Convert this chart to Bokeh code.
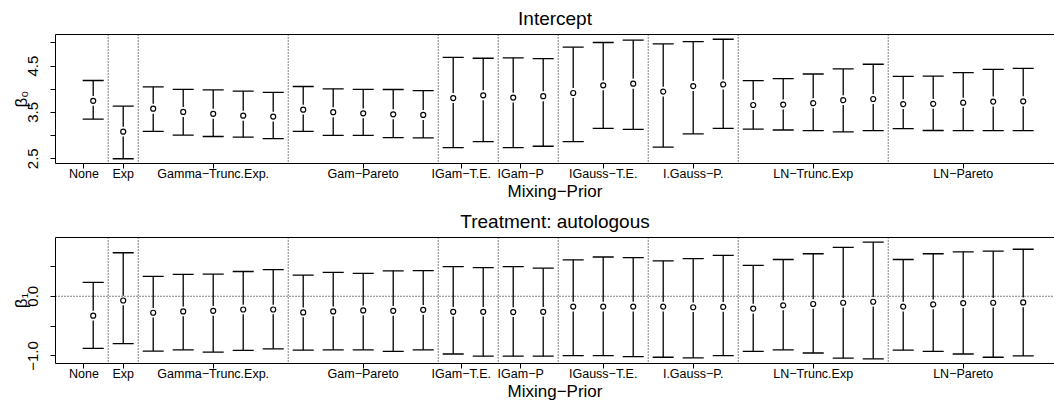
import numpy as np
from bokeh.plotting import figure
from bokeh.layouts import column
from bokeh.models import Range1d, FixedTicker, Span, LinearAxis, Title
from bokeh.embed import file_html
from bokeh.resources import INLINE

# ---------------- data ----------------
groups = ["None", "Exp", "Gamma\u2212Trunc.Exp.", "Gam\u2212Pareto", "IGam\u2212T.E.", "IGam\u2212P",
          "IGauss\u2212T.E.", "I.Gauss\u2212P.", "LN\u2212Trunc.Exp", "LN\u2212Pareto"]
group_sizes = [1, 1, 5, 5, 2, 2, 3, 3, 5, 5]
group_ticks = [0.69, 2, 5, 10, 13.27, 15.25, 18, 21, 25, 30]

b0_mean = [3.75, 3.085, 3.58, 3.51, 3.47, 3.43, 3.41, 3.56, 3.505, 3.48, 3.46, 3.445,
           3.81, 3.87, 3.82, 3.85, 3.92, 4.085, 4.12, 3.95, 4.07, 4.105,
           3.66, 3.67, 3.70, 3.765, 3.79, 3.68, 3.685, 3.71, 3.735, 3.74]
b0_lower = [3.357, 2.5, 3.09, 3.01, 2.98, 2.965, 2.935, 3.09, 3.005, 3.005, 2.955, 2.95,
            2.74, 2.87, 2.74, 2.77, 2.87, 3.155, 3.135, 2.75, 3.035, 3.155,
            3.14, 3.12, 3.105, 3.08, 3.105, 3.15, 3.11, 3.105, 3.105, 3.105]
b0_upper = [4.19, 3.635, 4.05, 4.0, 3.985, 3.96, 3.935, 4.06, 4.01, 4.0, 3.995, 3.97,
            4.69, 4.67, 4.68, 4.66, 4.91, 5.01, 5.06, 4.98, 5.03, 5.08,
            4.185, 4.23, 4.33, 4.44, 4.54, 4.28, 4.285, 4.36, 4.43, 4.45]

b1_mean = [-0.325, -0.071, -0.276, -0.254, -0.244, -0.222, -0.222, -0.271, -0.254, -0.238, -0.244, -0.227,
           -0.26, -0.26, -0.265, -0.26, -0.173, -0.173, -0.173, -0.173, -0.184, -0.178,
           -0.206, -0.152, -0.130, -0.109, -0.092, -0.173, -0.136, -0.114, -0.109, -0.103]
b1_lower = [-0.875, -0.795, -0.919, -0.897, -0.935, -0.908, -0.881, -0.903, -0.897, -0.897, -0.924, -0.897,
            -0.968, -1.005, -1.005, -1.005, -0.995, -0.995, -1.011, -1.022, -1.032, -0.995,
            -0.924, -0.897, -0.951, -1.038, -1.049, -0.903, -0.924, -0.968, -1.022, -1.0]
b1_upper = [0.232, 0.729, 0.334, 0.366, 0.372, 0.415, 0.448, 0.356, 0.399, 0.383, 0.426, 0.431,
            0.496, 0.480, 0.496, 0.47, 0.61, 0.658, 0.648, 0.594, 0.632, 0.686,
            0.518, 0.616, 0.713, 0.820, 0.907, 0.616, 0.713, 0.745, 0.756, 0.788]

b0_ticks = [2.5, 3.0, 3.5, 4.0, 4.5, 5.0]
b0_tick_labels = ["2.5", "", "3.5", "", "4.5", ""]
b1_ticks = [-1.0, -0.5, 0.0, 0.5]
b1_tick_labels = ["\u22121.0", "", "0.0", ""]

# ---------------- layout / style ----------------
FONT = "Liberation Sans"
W = 1054
LEFT = 55
FRAME_H = 130
X0, X1 = -0.257, 33.043
xpos = np.arange(1, sum(group_sizes) + 1)
dividers = list(np.cumsum(group_sizes)[:-1] + 0.5)


def panel(mean, lower, upper, yr, ticks, tick_labels, title, ylab, height, top):
    p = figure(width=W, height=height, output_backend="svg", toolbar_location=None,
               x_range=Range1d(X0, X1), y_range=Range1d(*yr),
               min_border_left=LEFT, min_border_right=0, min_border_top=top,
               min_border_bottom=height - top - FRAME_H)
    p.outline_line_color = None
    p.xgrid.visible = False
    p.ygrid.visible = False
    p.background_fill_color = "white"
    p.border_fill_color = "white"

    ppu_y = FRAME_H / (yr[1] - yr[0])   # pixels per y unit

    # x axis
    xa = p.xaxis[0]
    xa.ticker = FixedTicker(ticks=group_ticks)
    xa.major_label_overrides = {t: g for t, g in zip(group_ticks, groups)}
    xa.minor_tick_line_color = None
    xa.major_tick_out = 5
    xa.major_tick_in = 0
    xa.major_label_standoff = -2
    xa.major_label_text_font = FONT
    xa.major_label_text_font_size = "12.5px"
    xa.major_label_text_color = "black"
    xa.axis_line_color = "black"
    xa.major_tick_line_color = "black"
    xa.axis_label = "Mixing\u2212Prior"
    xa.axis_label_text_font = FONT
    xa.axis_label_text_font_size = "17px"
    xa.axis_label_text_font_style = "normal"
    xa.axis_label_text_color = "black"
    xa.axis_label_standoff = -2

    # y axis
    ya = p.yaxis[0]
    ya.ticker = FixedTicker(ticks=ticks)
    ya.major_label_overrides = {t: l for t, l in zip(ticks, tick_labels)}
    ya.minor_tick_line_color = None
    ya.major_tick_out = 5
    ya.major_tick_in = 0
    ya.major_label_standoff = 12
    ya.major_label_orientation = "vertical"
    ya.major_label_text_font = FONT
    ya.major_label_text_font_size = "15px"
    ya.major_label_text_color = "black"
    ya.axis_line_color = "black"
    ya.major_tick_line_color = "black"
    ya.axis_label = ylab
    ya.axis_label_text_font = FONT
    ya.axis_label_text_font_size = "17px"
    ya.axis_label_text_font_style = "normal"
    ya.axis_label_text_color = "black"
    ya.axis_label_standoff = -5

    # top border line
    top_ax = LinearAxis(ticker=FixedTicker(ticks=[]), major_label_text_font_size="0px",
                        major_tick_line_color=None, minor_tick_line_color=None,
                        major_tick_out=0, major_label_standoff=0,
                        axis_line_color="black")
    p.add_layout(top_ax, "above")

    p.add_layout(Title(text=title, align="center", text_font=FONT, text_font_size="19px",
                       text_font_style="normal", text_color="black", standoff=11, offset=3),
                 "above")

    # group dividers
    for d in dividers:
        p.add_layout(Span(location=float(d), dimension="height", line_color="black",
                          line_width=1, line_dash="1 2"))

    if yr[0] < 0 < yr[1]:
        p.add_layout(Span(location=0, dimension="width", line_color="black",
                          line_width=1, line_dash="1 2"))

    gap = 5.0 / ppu_y
    m = np.array(mean)
    lo = np.array(lower)
    up = np.array(upper)
    p.segment(x0=xpos, y0=lo, x1=xpos, y1=np.minimum(m - gap, up), line_color="black", line_width=1.3)
    p.segment(x0=xpos, y0=np.maximum(m + gap, lo), x1=xpos, y1=up, line_color="black", line_width=1.3)
    p.scatter(x=xpos, y=up, marker="dash", size=21, line_color="black", line_width=1.3)
    p.scatter(x=xpos, y=lo, marker="dash", size=21, line_color="black", line_width=1.3)
    p.scatter(x=xpos, y=m, marker="circle", size=5, fill_color="white",
              line_color="black", line_width=1.2)
    return p


p1 = panel(b0_mean, b0_lower, b0_upper, (2.397, 5.183), b0_ticks, b0_tick_labels,
           "Intercept", "\u03b2\u2080", 203, 34)
p2 = panel(b1_mean, b1_lower, b1_upper, (-1.127, 0.985), b1_ticks, b1_tick_labels,
           "Treatment: autologous", "\u03b2\u2081", 200, 34)

layout = column(p1, p2, spacing=0)
open("out.html", "w").write(file_html(layout, INLINE))
